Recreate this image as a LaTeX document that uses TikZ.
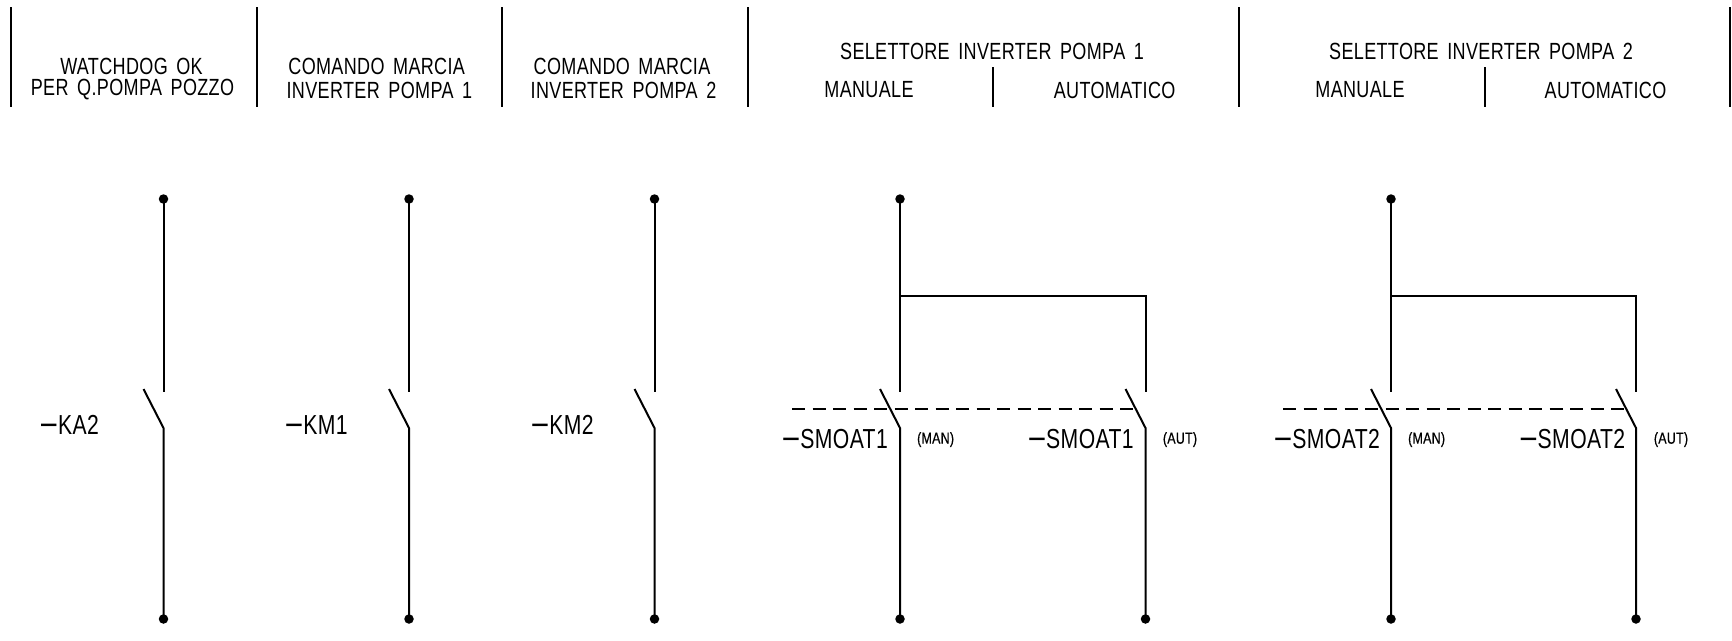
\documentclass[tikz,border=0pt]{standalone}
\usepackage{fontspec}
\setmainfont{Liberation Sans}
\newfontfamily\cadfont[FakeStretch=0.77,WordSpace=1.6,LetterSpace=1.5]{Liberation Sans}
\newfontfamily\cadsmall[FakeStretch=0.78,LetterSpace=1.5,FakeBold=0.6]{Liberation Sans}
\newcommand{\tagdash}{{\fontsize{36}{36}\selectfont –}\kern1.5pt}
\tikzset{
  wire/.style={line width=2pt,black},
  dot/.style={circle,fill=black,inner sep=0pt,minimum size=9.5pt},
  head/.style={inner sep=0pt,font=\cadfont\fontsize{23.4}{23.4}\selectfont},
  tag/.style={inner sep=0pt,font=\cadfont\fontsize{27.5}{27.5}\selectfont},
  small/.style={inner sep=0pt,font=\cadsmall\fontsize{16}{16}\selectfont},
}
\begin{document}
\begin{tikzpicture}[x=1pt,y=-1pt]
\useasboundingbox (0,0) rectangle (1732,640);
% header dividers
\foreach \n/\x in {a/11,b/256.5,c/502,d/747.5,e/1238.5,f/1730}{
  \coordinate (\n t) at (\x,7);
  \coordinate (\n b) at (\x,107);
  \draw[wire] (\n t) -- (\n b);
}
\coordinate (g t) at (993,67); \coordinate (g b) at (993,107);
\coordinate (h t) at (1484.5,67); \coordinate (h b) at (1484.5,107);
\draw[wire] (g t) -- (g b);
\draw[wire] (h t) -- (h b);
% header text
\node[head] (t1) at (131.5,66) {WATCHDOG OK};
\node[head] (t2) at (132.5,90) {PER Q.POMPA POZZO};
\node[head] (t3) at (376.7,66) {COMANDO MARCIA};
\node[head] (t4) at (379.4,90) {INVERTER POMPA 1};
\node[head] (t5) at (622,66) {COMANDO MARCIA};
\node[head] (t6) at (623.5,90) {INVERTER POMPA 2};
\node[head] (t7) at (992,51) {SELETTORE INVERTER POMPA 1};
\node[head] (t8) at (869,90) {MANUALE};
\node[head] (t9) at (1114.6,90) {AUTOMATICO};
\node[head] (t10) at (1481,51) {SELETTORE INVERTER POMPA 2};
\node[head] (t11) at (1360,90) {MANUALE};
\node[head] (t12) at (1605.5,90) {AUTOMATICO};
% contacts with top terminal
\foreach \n/\x in {p/163.5,q/409,r/654.5,s/900,v/1391}{
  \node[dot] (\n top) at (\x,199) {};
  \coordinate (\n fix) at (\x,392);
  \draw[wire] (\n top.center) -- (\n fix);
}
% contacts fed by the jumper
\foreach \n/\x in {u/1145.5,w/1636}{
  \coordinate (\n top) at (\x,295.5);
  \coordinate (\n fix) at (\x,392);
}
% blades and lower terminals
\foreach \n/\x in {p/163.5,q/409,r/654.5,s/900,u/1145.5,v/1391,w/1636}{
  \node[dot] (\n bot) at (\x,619) {};
  \coordinate (\n piv) at (\x,428);
  \coordinate (\n tip) at (\x-20,389);
  \draw[wire] (\n tip) -- (\n piv) -- (\n bot.center);
}
% jumpers
\coordinate (sj) at (900,295.5);
\coordinate (vj) at (1391,295.5);
\draw[wire] (sj) -- (utop) -- (ufix);
\draw[wire] (vj) -- (wtop) -- (wfix);
% mechanical links
\coordinate (l1a) at (792,408.5); \coordinate (l1b) at (1135,408.5);
\coordinate (l2a) at (1283,408.5); \coordinate (l2b) at (1626,408.5);
\draw[wire,dash pattern=on 13pt off 7.5pt] (l1a) -- (l1b);
\draw[wire,dash pattern=on 13pt off 7.5pt] (l2a) -- (l2b);
% tags
\node[tag] (k1) at (70,425) {\tagdash KA2};
\node[tag] (k2) at (317,425) {\tagdash KM1};
\node[tag] (k3) at (563,425) {\tagdash KM2};
\node[tag] (k4) at (835.6,439.5) {\tagdash SMOAT1};
\node[tag] (k5) at (1081.5,439.5) {\tagdash SMOAT1};
\node[tag] (k6) at (1327.7,439.5) {\tagdash SMOAT2};
\node[tag] (k7) at (1573,439.5) {\tagdash SMOAT2};
\node[small] (m1) at (935.6,439.5) {(MAN)};
\node[small] (m2) at (1180,439.5) {(AUT)};
\node[small] (m3) at (1426.6,439.5) {(MAN)};
\node[small] (m4) at (1671,439.5) {(AUT)};
\end{tikzpicture}
\end{document}
